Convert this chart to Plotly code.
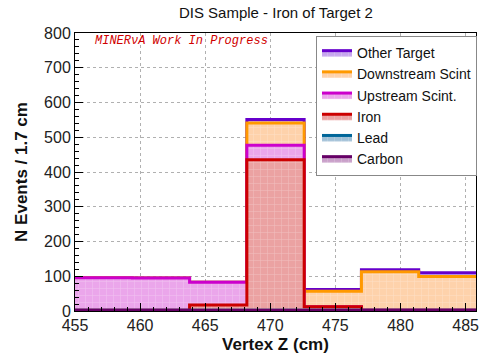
import plotly.graph_objects as go

# Bin edges (cm) and per-component event counts (stacked, bottom to top)
edges = [455.0, 459.4, 463.8, 468.2, 472.6, 477.0, 481.4, 485.8]
carbon = [2, 2, 2, 2, 2, 2, 2]
lead = [0, 0, 0, 0, 0, 0, 0]
iron = [0, 0, 15, 433, 10, 0, 0]
upstream = [94, 93, 66, 42, 0, 0, 0]
downstream = [0, 0, 0, 64, 45, 111, 97]
other = [0, 0, 0, 10, 5, 6, 11]

names = ["Carbon", "Lead", "Iron", "Upstream Scint.", "Downstream Scint", "Other Target"]
series = [carbon, lead, iron, upstream, downstream, other]
line_colors = ["#660066", "#006699", "#cc0000", "#cc00cc", "#ff9900", "#6600cc"]
fill_colors = ["#c9a0c9", "#a0c0d6", "#eba2a2", "#eba6eb", "#fed2ab", "#c6a6ee"]

# cumulative stacks
cum = []
run = [0] * len(edges[:-1])
for s in series:
    run = [a + b for a, b in zip(run, s)]
    cum.append(list(run))

fig = go.Figure()
# Draw from top of stack down so lower components are painted over
for i in reversed(range(len(series))):
    yv = cum[i] + [cum[i][-1]]
    fig.add_trace(go.Scatter(
        x=edges, y=yv, mode="lines", line_shape="hv", name=names[i],
        line=dict(color=line_colors[i], width=3),
        fill="tozeroy", fillcolor=fill_colors[i],
        fillpattern=dict(shape="+", bgcolor=fill_colors[i], fgcolor="rgba(255,255,255,0.6)",
                         size=7, solidity=0.15),
        hoverinfo="skip",
    ))

axis_font = dict(family="Liberation Sans", size=16, color="#222222")
fig.update_layout(
    width=479, height=361,
    margin=dict(l=75, r=3, t=33, b=50, autoexpand=False),
    paper_bgcolor="white", plot_bgcolor="white",
    title=dict(text="DIS Sample - Iron of Target 2", x=0.576, xref="container", y=0.965, yanchor="middle",
               xanchor="center",
               font=dict(family="Liberation Sans", size=15, color="#111111")),
    showlegend=True,
    legend=dict(x=0.601, y=0.989, xanchor="left", yanchor="top",
                bgcolor="white", bordercolor="#888888", borderwidth=1,
                font=dict(family="Liberation Sans", size=14, color="#111111"),
                tracegroupgap=0, itemwidth=30),
)
fig.update_xaxes(
    range=[455, 485.8], tickvals=[455, 460, 465, 470, 475, 480, 485],
    ticks="inside", ticklen=8, tickcolor="black", automargin=False, ticklabeloverflow="allow",
    minor=dict(dtick=1, ticks="inside", ticklen=4, tickcolor="black", showgrid=False),
    showline=True, mirror=True, linecolor="black", linewidth=1,
    showgrid=True, gridcolor="#b0b0b0", griddash="dot", gridwidth=1,
    tickfont=axis_font, zeroline=False,
    title=dict(text="<b>Vertex Z (cm)</b>", font=dict(family="Liberation Sans", size=17, color="#111111"),
               standoff=4),
)
fig.update_yaxes(
    range=[0, 800], tickvals=[0, 100, 200, 300, 400, 500, 600, 700, 800],
    ticks="inside", ticklen=8, tickcolor="black", automargin=False, ticklabeloverflow="allow",
    minor=dict(dtick=20, ticks="inside", ticklen=4, tickcolor="black", showgrid=False),
    showline=True, mirror=True, linecolor="black", linewidth=1,
    showgrid=True, gridcolor="#b0b0b0", griddash="dot", gridwidth=1,
    tickfont=axis_font, zeroline=False,
    title=dict(text="<b>N Events / 1.7 cm</b>", font=dict(family="Liberation Sans", size=17, color="#111111"),
               standoff=12),
)
fig.add_annotation(x=0.045, y=0.972, xref="paper", yref="paper", xanchor="left", yanchor="middle",
                   text="<i>MINERνA Work In Progress</i>", showarrow=False,
                   font=dict(family="Liberation Mono", size=12, color="#d00000"))

fig.write_html("out.html", config={"displayModeBar": False},
               post_script="document.body.style.margin='0px';")
